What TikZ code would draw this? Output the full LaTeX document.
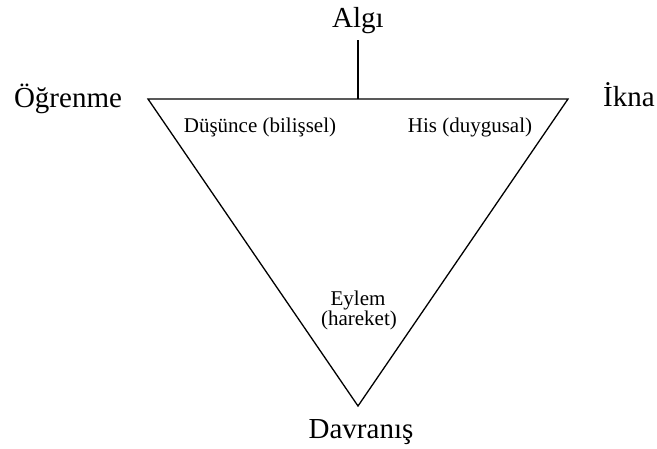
\documentclass[tikz,border=0pt]{standalone}
\usepackage{fontspec}
\setmainfont{Liberation Serif}
\begin{document}
\begin{tikzpicture}[x=1pt,y=-1pt,
  big/.style={font=\fontsize{29}{34}\selectfont, anchor=base, inner sep=0pt},
  small/.style={font=\fontsize{21}{25}\selectfont, anchor=base, inner sep=0pt},
  edge/.style={draw=black, line width=1.3pt}]
  \useasboundingbox (0,0) rectangle (657,448);

  % corners of the inverted triangle and the stem above it
  \coordinate (tl) at (148,99);
  \coordinate (tr) at (568,99);
  \coordinate (bt) at (358,406);
  \coordinate (stemtop) at (358,40);
  \coordinate (stembase) at (358,99);

  \draw[edge] (tl) -- (tr) -- (bt) -- cycle;
  \draw[edge] (stemtop) -- (stembase);

  % outer labels
  \node[big] (algi) at (358,27) {Algı};
  \node[big] (ogrenme) at (68,107) {Öğrenme};
  \node[big] (ikna) at (629,106) {İkna};
  \node[big] (davranis) at (361,438) {Davranış};

  % inner labels
  \node[small] (dusunce) at (260,132) {Düşünce (bilişsel)};
  \node[small] (his) at (470,132) {His (duygusal)};
  \node[small] (eylem) at (358,305) {Eylem};
  \node[small] (hareket) at (359,325) {(hareket)};
\end{tikzpicture}
\end{document}
